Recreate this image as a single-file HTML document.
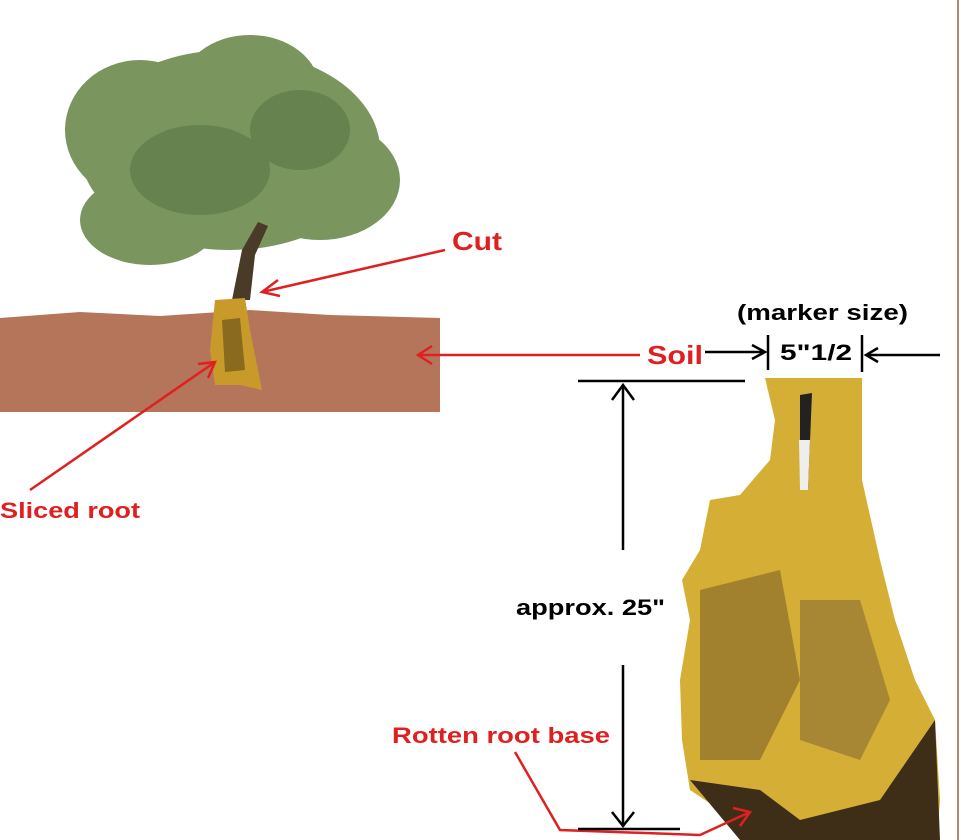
<!DOCTYPE html>
<html><head><style>
body{margin:0;background:#fff;}
svg{display:block}
text{font-family:"Liberation Sans",sans-serif;font-weight:bold}
</style></head><body>
<svg width="960" height="840" viewBox="0 0 960 840">
<rect width="960" height="840" fill="#fff"/>
<line x1="958" y1="0" x2="958" y2="840" stroke="#b08a70" stroke-width="2"/>
<!-- soil -->
<path d="M0 318 L80 312 L160 316 L250 310 L330 315 L440 318 L440 412 L0 412 Z" fill="#b5755a"/>
<!-- canopy -->
<g fill="#7b955f">
<ellipse cx="230" cy="150" rx="150" ry="100"/>
<ellipse cx="140" cy="130" rx="75" ry="70"/>
<ellipse cx="320" cy="180" rx="80" ry="60"/>
<ellipse cx="250" cy="90" rx="70" ry="55"/>
<ellipse cx="150" cy="220" rx="70" ry="45"/>
</g>
<g fill="#65824f"><ellipse cx="200" cy="170" rx="70" ry="45"/><ellipse cx="300" cy="130" rx="50" ry="40"/></g>
<path d="M232 300 L242 250 L258 222 L268 226 L255 255 L250 300 Z" fill="#4a3a28"/>
<!-- root in soil -->
<path d="M215 300 L245 298 L250 330 L262 390 L240 385 L215 385 L210 350 Z" fill="#c89a2a"/>
<path d="M222 320 L240 318 L245 370 L225 372 Z" fill="#8a6a1f"/>
<!-- wood piece -->
<path d="M765 378 L862 378 L862 480 L880 560 L895 620 L915 680 L935 720 L940 800 L937 840 L740 840 L720 810 L690 790 L682 740 L680 680 L690 620 L682 580 L700 550 L710 500 L740 495 L770 460 L775 420 Z" fill="#d4ae35"/>
<path d="M700 590 L780 570 L800 680 L760 760 L700 760 Z" fill="#a2812e"/>
<path d="M800 600 L860 600 L890 700 L860 760 L800 740 Z" fill="#a78634"/>
<path d="M690 780 L760 790 L800 820 L880 800 L935 720 L940 840 L740 840 Z" fill="#3e2e18"/>
<path d="M800 395 L812 393 L808 490 L800 490 Z" fill="#222"/><path d="M799 440 L810 440 L808 490 L800 490 Z" fill="#eee"/>
<!-- red arrows -->
<g stroke="#e02020" stroke-width="2.5" fill="none">
<line x1="445" y1="250" x2="262" y2="292"/><polyline points="278,280 262,292 280,296"/>
<line x1="640" y1="355" x2="418" y2="355"/><polyline points="432,346 418,355 432,364"/>
<line x1="30" y1="490" x2="215" y2="362"/><polyline points="198,364 215,362 208,378"/>
<polyline points="515,752 560,830 700,835 750,812"/><polyline points="733,808 750,812 740,826"/>
</g>
<g fill="#e02020" font-size="26">
<text x="452" y="250" textLength="50" lengthAdjust="spacingAndGlyphs">Cut</text><text x="647" y="364" textLength="56" lengthAdjust="spacingAndGlyphs">Soil</text>
</g>
<g fill="#e02020" font-size="22">
<text x="0" y="518" textLength="140" lengthAdjust="spacingAndGlyphs">Sliced root</text><text x="392" y="743" textLength="218" lengthAdjust="spacingAndGlyphs">Rotten root base</text>
</g>
<!-- black dimension -->
<g stroke="#000" stroke-width="2.5" fill="none">
<line x1="705" y1="352" x2="765" y2="352"/><polyline points="752,345 765,352 752,359"/>
<line x1="768" y1="335" x2="768" y2="370"/><line x1="862" y1="335" x2="862" y2="372"/>
<line x1="940" y1="355" x2="866" y2="355"/><polyline points="878,348 866,355 878,362"/>
<line x1="578" y1="381" x2="745" y2="381"/>
<line x1="623" y1="385" x2="623" y2="550"/><polyline points="612,400 623,385 634,400"/>
<line x1="623" y1="665" x2="623" y2="826"/><polyline points="612,812 623,826 634,812"/>
<line x1="578" y1="829" x2="680" y2="829"/>
</g>
<g fill="#000" font-size="22"><text x="737" y="320" textLength="171" lengthAdjust="spacingAndGlyphs">(marker size)</text><text x="780" y="360" textLength="72" lengthAdjust="spacingAndGlyphs">5"1/2</text><text x="516" y="615" textLength="149" lengthAdjust="spacingAndGlyphs">approx. 25"</text></g>
</svg>
</body></html>
